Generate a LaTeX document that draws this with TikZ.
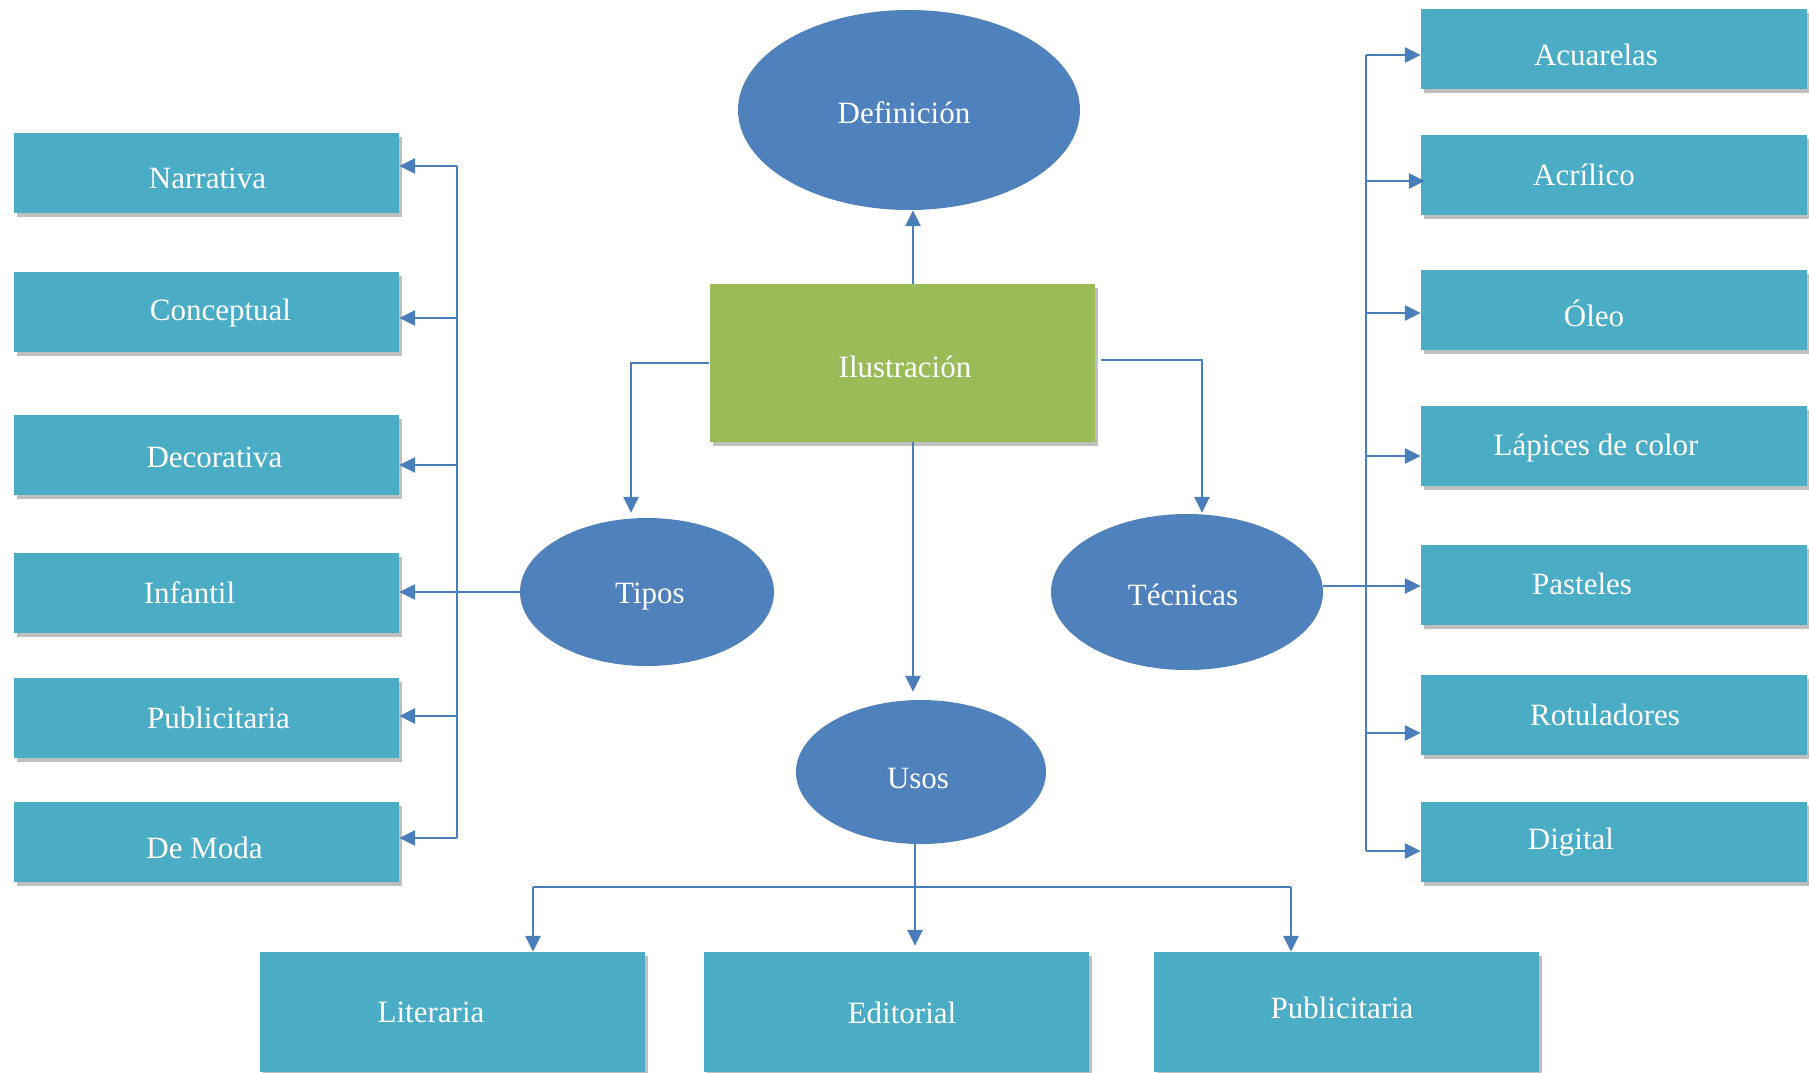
\documentclass[tikz,border=0pt]{standalone}
\usepackage{fontspec}
\setmainfont{Liberation Serif}
\usetikzlibrary{arrows.meta,shadows,shapes.geometric}
\definecolor{boxc}{HTML}{4BACC6}
\definecolor{ellc}{HTML}{4F81BD}
\definecolor{grnc}{HTML}{9BBB59}
\definecolor{linec}{HTML}{4A7EBB}
\begin{document}
\begin{tikzpicture}[x=1pt,y=-1pt,
 txt/.style={text=white,font=\fontsize{31}{37}\selectfont,inner sep=0},
 shd/.style={drop shadow={shadow xshift=3pt,shadow yshift=-4pt,fill=black,opacity=0.25}},
 lbox/.style={rectangle,fill=boxc,minimum width=385pt,minimum height=80pt,inner sep=0,shd},
 bbox/.style={rectangle,fill=boxc,minimum width=385pt,minimum height=120pt,inner sep=0,shd},
 ell/.style={ellipse,fill=ellc,inner sep=0},
 conn/.style={draw=linec,line width=2.6pt},
 arr/.style={conn,-{Triangle[length=16pt,width=15pt]}},
]
\useasboundingbox[fill=white] (0,0) rectangle (1809,1072);

% central
\node[ell,minimum width=342pt,minimum height=200pt,label={[txt,xshift=-5pt,yshift=-3pt]center:Definición}] (def) at (909,110) {};
\node[rectangle,fill=grnc,minimum width=385pt,minimum height=158pt,inner sep=0,shd,label={[txt,xshift=3pt,yshift=-4pt]center:Ilustración}] (ilu) at (902,363) {};
\node[ell,minimum width=254pt,minimum height=148pt,label={[txt,xshift=3pt,yshift=-5pt]center:Tipos}] (tipos) at (647,592) {};
\node[ell,minimum width=272pt,minimum height=156pt,label={[txt,xshift=-4pt,yshift=-3pt]center:Técnicas}] (tec) at (1187,592) {};
\node[ell,minimum width=250pt,minimum height=144pt,label={[txt,xshift=-3pt,yshift=-6pt]center:Usos}] (usos) at (921,772) {};

% left column
\node[lbox,label={[txt,xshift=1pt,yshift=-6pt]center:Narrativa}] (narr) at (206.5,172.5) {};
\node[lbox,label={[txt,xshift=14pt,yshift=-1pt]center:Conceptual}] (conc) at (206.5,312) {};
\node[lbox,label={[txt,xshift=8pt,yshift=-2pt]center:Decorativa}] (deco) at (206.5,455) {};
\node[lbox,label={[txt,xshift=-17pt,yshift=0pt]center:Infantil}] (inf) at (206.5,592.5) {};
\node[lbox,label={[txt,xshift=12pt,yshift=0pt]center:Publicitaria}] (publ) at (206.5,718) {};
\node[lbox,label={[txt,xshift=-2pt,yshift=-6pt]center:De Moda}] (moda) at (206.5,841.5) {};

% right column
\node[lbox,minimum width=386pt,label={[txt,xshift=-18pt,yshift=-6pt]center:Acuarelas}] (acua) at (1614,49) {};
\node[lbox,minimum width=386pt,label={[txt,xshift=-30pt,yshift=0pt]center:Acrílico}] (acri) at (1614,175) {};
\node[lbox,minimum width=386pt,label={[txt,xshift=-20pt,yshift=-3pt]center:Óleo}] (oleo) at (1614,310) {};
\node[lbox,minimum width=386pt,label={[txt,xshift=-18pt,yshift=-2pt]center:Lápices de color}] (lapi) at (1614,446) {};
\node[lbox,minimum width=386pt,label={[txt,xshift=-32pt,yshift=1pt]center:Pasteles}] (past) at (1614,584.5) {};
\node[lbox,minimum width=386pt,label={[txt,xshift=-9pt,yshift=0pt]center:Rotuladores}] (rotu) at (1614,715) {};
\node[lbox,minimum width=386pt,label={[txt,xshift=-43pt,yshift=-1pt]center:Digital}] (digi) at (1614,841.5) {};

% bottom row
\node[bbox,label={[txt,xshift=-21pt,yshift=0pt]center:Literaria}] (lit) at (452,1012) {};
\node[bbox,label={[txt,xshift=6pt,yshift=-1pt]center:Editorial}] (edit) at (896,1012) {};
\node[bbox,label={[txt,xshift=-4pt,yshift=4pt]center:Publicitaria}] (pubb) at (1346,1012) {};

% connectors from Ilustración
\coordinate (vx) at (913,0);
\draw[arr] (ilu.north -| vx) -- (def.south -| vx);
\coordinate (tl) at (631,363);
\draw[arr] (ilu.west) -- (tl) -- ([yshift=5pt]tipos.north -| tl);
\coordinate (tr) at (1202,360);
\draw[arr] ([xshift=6pt]ilu.east |- tr) -- (tr) -- ([yshift=1pt]tec.north -| tr);
\draw[arr] (ilu.south -| vx) -- ([yshift=8pt]usos.north -| vx);

% left bus
\coordinate (LB1) at (457,166);
\coordinate (LB2) at (457,318);
\coordinate (LB3) at (457,465);
\coordinate (LB5) at (457,716);
\coordinate (LB6) at (457,838);
\draw[conn] (LB1) -- (LB6);
\draw[arr] (LB1) -- (narr.east |- LB1);
\draw[arr] (LB2) -- (conc.east |- LB2);
\draw[arr] (LB3) -- (deco.east |- LB3);
\draw[arr] (tipos.west) -- (inf.east |- tipos.west);
\draw[arr] (LB5) -- (publ.east |- LB5);
\draw[arr] (LB6) -- (moda.east |- LB6);

% right bus
\coordinate (RB1) at (1366,55);
\coordinate (RB2) at (1366,181);
\coordinate (RB3) at (1366,313);
\coordinate (RB4) at (1366,456);
\coordinate (RB5) at (1366,586);
\coordinate (RB6) at (1366,733);
\coordinate (RB7) at (1366,851);
\draw[conn] (RB1) -- (RB7);
\draw[arr] (RB1) -- (acua.west |- RB1);
\draw[arr] (RB2) -- ([xshift=4pt]acri.west |- RB2);
\draw[arr] (RB3) -- (oleo.west |- RB3);
\draw[arr] (RB4) -- (lapi.west |- RB4);
\draw[arr] (tec.east |- RB5) -- (past.west |- RB5);
\draw[arr] (RB6) -- (rotu.west |- RB6);
\draw[arr] (RB7) -- (digi.west |- RB7);

% bottom bus
\coordinate (ux) at (915,0);
\coordinate (BL) at (533,887);
\coordinate (BR) at (1291,887);
\draw[arr] (usos.south -| ux) -- ([yshift=6pt]edit.north -| ux);
\draw[conn] (BL) -- (BR);
\draw[arr] (BL) -- (lit.north -| BL);
\draw[arr] (BR) -- (pubb.north -| BR);
\end{tikzpicture}
\end{document}
